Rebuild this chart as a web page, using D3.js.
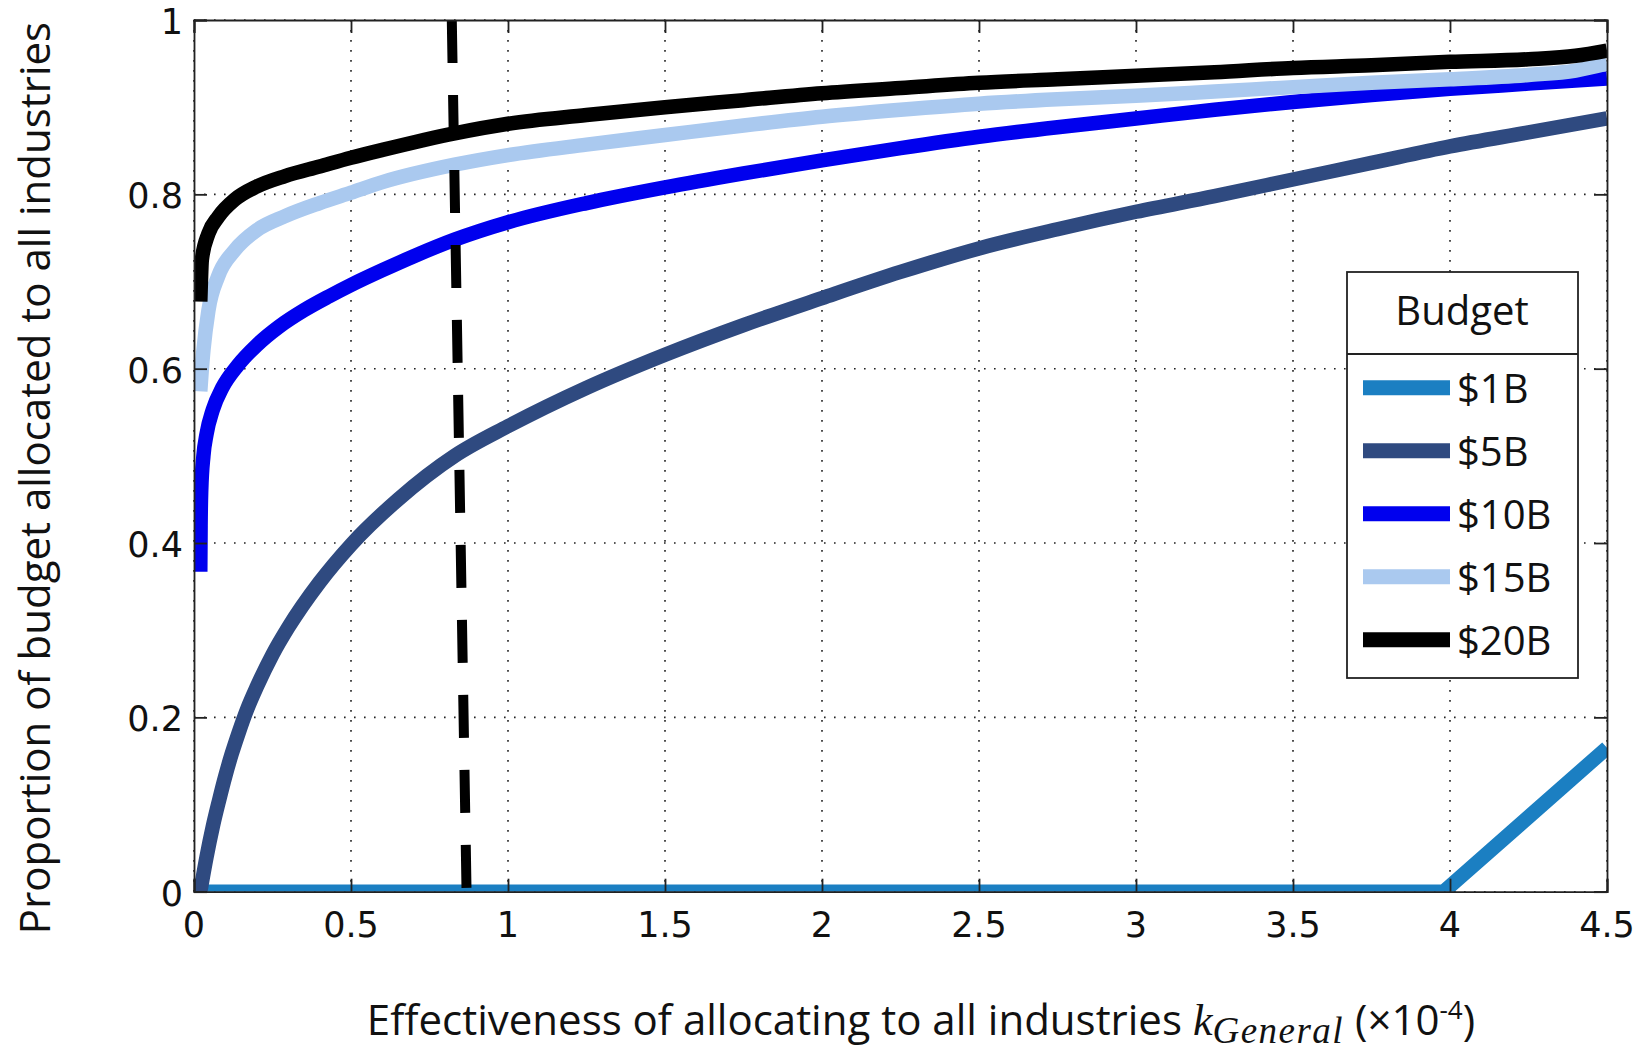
<!DOCTYPE html>
<html><head><meta charset="utf-8">
<script src="https://cdn.jsdelivr.net/npm/d3@7"></script>
<style>body{margin:0;background:#fff;} svg{display:block;}</style>
</head><body>
<svg id="chart" width="1648" height="1052"></svg>
<script>
// ---------- data ----------
const seriesNames = ["$1B", "$5B", "$10B", "$15B", "$20B"];
const seriesColors = ["#1b7fc2", "#2f4a80", "#0000ee", "#aac9ef", "#000000"];

const x1B = [0, 1.0, 2.0, 3.0, 3.98, 4.5];
const y1B = [0, 0, 0, 0, 0, 0.165];

const x5B = [0.02, 0.04, 0.06, 0.08, 0.10, 0.12, 0.14, 0.17, 0.20, 0.25, 0.30, 0.40, 0.50, 0.65, 0.83, 1.0, 1.25, 1.5, 1.75, 2.0, 2.25, 2.5, 2.75, 3.0, 3.25, 3.5, 3.75, 4.0, 4.25, 4.5];
const y5B = [0, 0.04, 0.075, 0.105, 0.133, 0.158, 0.18, 0.21, 0.235, 0.272, 0.303, 0.355, 0.398, 0.45, 0.50, 0.534, 0.578, 0.616, 0.650, 0.681, 0.711, 0.738, 0.760, 0.780, 0.798, 0.817, 0.836, 0.855, 0.871, 0.887];

const x10B = [0.02, 0.021, 0.023, 0.03, 0.04, 0.06, 0.09, 0.14, 0.2, 0.27, 0.35, 0.43, 0.5, 0.6, 0.7, 0.83, 1.0, 1.25, 1.5, 1.75, 2.0, 2.25, 2.5, 2.75, 3.0, 3.25, 3.5, 3.75, 4.0, 4.25, 4.5];
const y10B = [0.367, 0.42, 0.46, 0.50, 0.525, 0.553, 0.578, 0.604, 0.627, 0.648, 0.667, 0.683, 0.696, 0.713, 0.729, 0.748, 0.768, 0.790, 0.808, 0.824, 0.839, 0.853, 0.866, 0.877, 0.887, 0.897, 0.906, 0.914, 0.921, 0.927, 0.933];

const x15B = [0.02, 0.025, 0.03, 0.046, 0.077, 0.13, 0.2, 0.29, 0.4, 0.5, 0.6, 0.83, 1.0, 1.25, 1.5, 1.75, 2.0, 2.25, 2.5, 2.75, 3.0, 3.25, 3.5, 3.75, 4.0, 4.25, 4.4, 4.5];
const y15B = [0.574, 0.60, 0.621, 0.667, 0.706, 0.736, 0.759, 0.775, 0.790, 0.802, 0.814, 0.834, 0.845, 0.857, 0.868, 0.879, 0.889, 0.897, 0.904, 0.909, 0.913, 0.918, 0.923, 0.928, 0.932, 0.937, 0.942, 0.950];

const x20B = [0.02, 0.022, 0.025, 0.046, 0.077, 0.13, 0.2, 0.29, 0.4, 0.5, 0.6, 0.83, 1.0, 1.25, 1.5, 1.75, 2.0, 2.25, 2.5, 2.75, 3.0, 3.25, 3.5, 3.75, 4.0, 4.25, 4.4, 4.5];
const y20B = [0.677, 0.70, 0.725, 0.755, 0.774, 0.794, 0.809, 0.821, 0.832, 0.842, 0.851, 0.870, 0.881, 0.891, 0.900, 0.908, 0.916, 0.922, 0.928, 0.932, 0.936, 0.940, 0.945, 0.948, 0.952, 0.955, 0.959, 0.965];

const dashX = [0.821, 0.868];
const dashY = [1, 0];

const xTickValues = [0, 0.5, 1, 1.5, 2, 2.5, 3, 3.5, 4, 4.5];
const xTickLabels = ["0", "0.5", "1", "1.5", "2", "2.5", "3", "3.5", "4", "4.5"];
const yTickValues = [0, 0.2, 0.4, 0.6, 0.8, 1];
const yTickLabels = ["0", "0.2", "0.4", "0.6", "0.8", "1"];

const legendTitle = "Budget";
const yTitle = "Proportion of budget allocated to all industries";

// ---------- layout ----------
const L = 194, T = 20, R = 1607, B = 891.7;
const svg = d3.select("#chart");
const x = d3.scaleLinear().domain([0, 4.5]).range([L, R]);
const y = d3.scaleLinear().domain([0, 1]).range([B, T]);

svg.append("rect").attr("width", 1648).attr("height", 1052).attr("fill", "#fff");

svg.append("defs").append("clipPath").attr("id", "clip")
  .append("rect").attr("x", L).attr("y", T).attr("width", R - L).attr("height", B - T);

// grid
const grid = svg.append("g").attr("stroke", "#222").attr("stroke-width", 1.6)
  .attr("stroke-dasharray", "1.6,8.4");
grid.selectAll(".gx").data(xTickValues).join("line")
  .attr("x1", d => x(d)).attr("x2", d => x(d)).attr("y1", B).attr("y2", T);
grid.selectAll(".gy").data(yTickValues).join("line")
  .attr("y1", d => y(d)).attr("y2", d => y(d)).attr("x1", L).attr("x2", R);

// series
const seriesX = [x1B, x5B, x10B, x15B, x20B];
const seriesY = [y1B, y5B, y10B, y15B, y20B];
const smooth = d3.line().x(d => x(d[0])).y(d => y(d[1])).curve(d3.curveMonotoneX);
const straight = d3.line().x(d => x(d[0])).y(d => y(d[1]));
const plot = svg.append("g").attr("clip-path", "url(#clip)");
seriesNames.forEach((name, i) => {
  plot.append("path")
    .datum(d3.zip(seriesX[i], seriesY[i]))
    .attr("d", i === 0 ? straight : smooth)
    .attr("fill", "none")
    .attr("stroke", seriesColors[i])
    .attr("stroke-width", 14.5)
    .attr("stroke-linejoin", "round");
});

// dashed vertical line
plot.append("path")
  .datum(d3.zip(dashX, dashY))
  .attr("d", straight)
  .attr("fill", "none").attr("stroke", "#000").attr("stroke-width", 10)
  .attr("stroke-dasharray", "43,32");

// axes (box with inward ticks)
const axG = svg.append("g");
const xb = d3.axisBottom(x).tickValues(xTickValues).tickSize(-13).tickFormat("");
const xt = d3.axisTop(x).tickValues(xTickValues).tickSize(-13).tickFormat("");
const yl = d3.axisLeft(y).tickValues(yTickValues).tickSize(-13).tickFormat("");
const yr = d3.axisRight(y).tickValues(yTickValues).tickSize(-13).tickFormat("");
axG.append("g").attr("transform", `translate(0,${B})`).call(xb);
axG.append("g").attr("transform", `translate(0,${T})`).call(xt);
axG.append("g").attr("transform", `translate(${L},0)`).call(yl);
axG.append("g").attr("transform", `translate(${R},0)`).call(yr);
axG.selectAll("path.domain").attr("stroke", "#222").attr("stroke-width", 1.8);
axG.selectAll(".tick line").attr("stroke", "#222").attr("stroke-width", 1.8);

// tick labels
svg.append("g").selectAll("text").data(xTickValues).join("text")
  .attr("x", d => x(d)).attr("y", 937)
  .attr("text-anchor", "middle")
  .attr("font-family", "DejaVu Sans").attr("font-size", 35).attr("fill", "#111")
  .text((d, i) => xTickLabels[i]);
svg.append("g").selectAll("text").data(yTickValues).join("text")
  .attr("x", 183).attr("y", d => y(d) + 14)
  .attr("text-anchor", "end")
  .attr("font-family", "DejaVu Sans").attr("font-size", 35).attr("fill", "#111")
  .text((d, i) => yTickLabels[i]);

// y title
svg.append("text")
  .attr("transform", "translate(50,478) rotate(-90)")
  .attr("text-anchor", "middle")
  .attr("font-family", "Open Sans").attr("font-size", 42).attr("fill", "#111")
  .text(yTitle);

// x title
const xt2 = svg.append("text")
  .attr("x", 921).attr("y", 1035)
  .attr("text-anchor", "middle")
  .attr("font-family", "Open Sans").attr("font-size", 42).attr("fill", "#111");
xt2.append("tspan").text("Effectiveness of allocating to all industries ");
xt2.append("tspan").attr("font-family", "Liberation Serif").attr("font-style", "italic").attr("font-size", 44).text("k");
xt2.append("tspan").attr("font-family", "Liberation Serif").attr("font-style", "italic").attr("font-size", 37)
  .attr("letter-spacing", 1.5).attr("dy", 8).text("General");
xt2.append("tspan").attr("dy", -8).text(" (×10");
xt2.append("tspan").attr("font-size", 26).attr("dy", -16).text("-4");
xt2.append("tspan").attr("dy", 16).text(")");

// legend
const lg = svg.append("g");
lg.append("rect").attr("x", 1347).attr("y", 272).attr("width", 231).attr("height", 406)
  .attr("fill", "#fff").attr("stroke", "#222").attr("stroke-width", 1.8);
lg.append("line").attr("x1", 1347).attr("x2", 1578).attr("y1", 354).attr("y2", 354)
  .attr("stroke", "#222").attr("stroke-width", 1.8);
lg.append("text").attr("x", 1462).attr("y", 325).attr("text-anchor", "middle")
  .attr("font-family", "Open Sans").attr("font-size", 40).attr("fill", "#111").text(legendTitle);
seriesNames.forEach((name, i) => {
  const cy = 387.7 + i * 63;
  lg.append("line").attr("x1", 1363).attr("x2", 1450).attr("y1", cy).attr("y2", cy)
    .attr("stroke", seriesColors[i]).attr("stroke-width", 15);
  lg.append("text").attr("x", 1457).attr("y", cy + 15.5)
    .attr("font-family", "Open Sans").attr("font-size", 40).attr("fill", "#111").text(name);
});
</script>
</body></html>
